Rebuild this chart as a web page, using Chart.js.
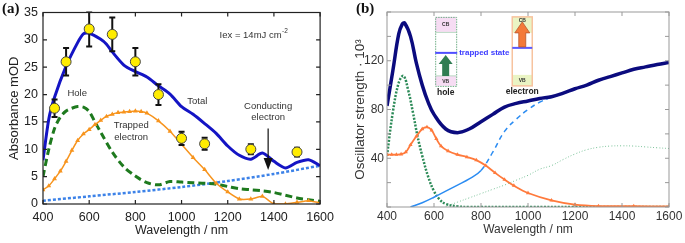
<!DOCTYPE html>
<html>
<head>
<meta charset="utf-8">
<script src="https://cdn.jsdelivr.net/npm/chart.js@4.4.0/dist/chart.umd.min.js"></script>
<style>
  html, body { margin: 0; padding: 0; background: #fff; }
  #wrap { position: relative; width: 685px; height: 243px; overflow: hidden; }
  canvas { position: absolute; top: 0; }
  #ca { left: 0; }
  #cb { left: 340px; }
  .lbl { position: absolute; top: 0; font: bold 15px "Liberation Serif", "DejaVu Serif", serif; color: #111; }
</style>
</head>
<body>
<div id="wrap">
  <canvas id="ca" width="340" height="243"></canvas>
  <canvas id="cb" width="345" height="243"></canvas>
  <div class="lbl" style="left:2px">(a)</div>
  <div class="lbl" style="left:356px">(b)</div>
</div>
<script>
const FONT = '"Liberation Sans", Arial, sans-serif';

// ── Panel (a) data ───────────────────────────────────────────────────────────
const A_TOTAL_NM = [400, 425, 450, 500, 550, 575, 600, 650, 675, 700, 750, 800, 850, 900, 950, 1000, 1050, 1100, 1150, 1200, 1250, 1300, 1350, 1400, 1450, 1500, 1550, 1600];
const A_TOTAL = [8, 15.5, 19.5, 25.2, 29.5, 31.1, 31.2, 30.1, 29.2, 27.8, 25.4, 24.2, 23.2, 21.6, 20.1, 17.8, 16.4, 14.7, 12.9, 10.6, 8.9, 8.2, 9.3, 7.8, 6.6, 7.6, 8.1, 7.0];

const A_HOLE_NM = [400, 425, 450, 475, 500, 525, 550, 575, 600, 625, 650, 700, 750, 800, 850, 900, 950, 1000, 1050, 1100, 1150, 1200, 1250, 1300, 1350, 1400, 1450, 1500, 1550, 1600];
const A_HOLE = [5, 10, 13.8, 15.9, 17, 17.5, 17.8, 17.7, 16.9, 15, 13.1, 9.5, 6.8, 5.1, 3.9, 3.5, 4.1, 4.0, 3.9, 3.8, 3.6, 3.2, 2.8, 2.6, 2.4, 2.1, 1.6, 1.1, 0.8, 0.5];

const A_TRAP_NM = [400, 425, 450, 475, 500, 525, 550, 575, 600, 625, 650, 675, 700, 725, 750, 775, 800, 825, 850, 900, 950, 1000, 1050, 1100, 1150, 1200, 1250, 1300, 1350, 1400, 1450, 1500, 1550, 1600];
const A_TRAP = [2.6, 3.3, 4.6, 6, 7.8, 9.8, 11.6, 12.8, 13.6, 14.5, 15.3, 16, 16.4, 16.7, 16.8, 16.9, 17, 16.9, 16.6, 15.2, 13.3, 10.9, 8.5, 6.3, 3.8, 2.2, 0.9, 0.9, 1.4, 0, 0, 0.3, 0.6, 0.2];

const A_COND_NM = [400, 600, 800, 1000, 1200, 1400, 1600];
const A_COND = [0.6, 1.4, 2.2, 3.1, 4.2, 5.5, 7.0];

const A_PT_NM = [450, 500, 600, 700, 800, 900, 1000, 1100, 1300, 1500];
const A_PT = [17.5, 26, 32, 31, 26, 20, 12, 11, 10, 9.5];
const A_PT_ERR = [1.6, 2.5, 3.2, 3.1, 2.5, 1.9, 1.2, 1.1, 0.9, 0.8];

// ── Panel (b) data ───────────────────────────────────────────────────────────
const B_TOTAL_NM = [400, 425, 450, 465, 475, 500, 525, 550, 575, 600, 650, 700, 750, 800, 850, 900, 950, 1000, 1050, 1100, 1150, 1200, 1250, 1300, 1350, 1400, 1450, 1500, 1550, 1600];
const B_TOTAL = [83, 112, 142, 150, 151, 140, 118, 100, 86, 76, 64, 61, 64, 70, 76, 82, 85, 87, 89, 90.5, 93.5, 97, 100, 104, 107, 110, 113, 115, 117, 118.6];

const B_HOLE_NM = [400, 425, 450, 470, 490, 510, 530, 550, 575, 600, 625, 650, 700, 750, 800, 1000, 1200, 1400, 1600];
const B_HOLE = [42, 78, 102, 107.5, 96, 78, 58, 42, 25, 13, 6, 2.5, 0.5, 0, 0, 0, 0, 0, 0];

const B_TRAP_NM = [400, 420, 440, 460, 480, 500, 525, 550, 570, 590, 610, 630, 660, 700, 740, 780, 820, 860, 900, 940, 1000, 1100, 1200, 1300, 1450, 1600];
const B_TRAP = [43, 43, 43, 43.3, 45, 51, 58, 64, 65.5, 63, 56, 50, 46, 43, 41, 38.5, 34, 28, 22.5, 17.5, 11.5, 5.5, 2, 0.8, 0.6, 0.5];

const B_COND_NM = [500, 550, 600, 650, 700, 750, 800, 850, 900, 950, 1000, 1050, 1100, 1150, 1200, 1250, 1300, 1350, 1400, 1450, 1500, 1550, 1600];
const B_COND = [0, 3.5, 8, 13, 18, 23, 30, 45, 62, 72, 80, 86, 90, 93, 96.5, 100, 103.5, 107, 110, 113, 115, 117, 118.6];

const B_FREE_NM = [650, 700, 750, 800, 850, 900, 950, 1000, 1050, 1100, 1150, 1200, 1250, 1300, 1350, 1400, 1450, 1500, 1550, 1600];
const B_FREE = [0.5, 4, 7.5, 11, 14.5, 18, 22, 26, 31, 34, 39, 43.5, 47, 49, 50, 50.2, 50, 49.3, 48.6, 48];

const xy = (xs, ys) => xs.map((x, i) => ({ x, y: ys[i] }));

// frame box + inward tick marks on all four sides
const frame = {
  id: 'frame',
  afterDatasetsDraw(chart, args, o) {
    const { ctx, chartArea: a, scales: { x, y } } = chart;
    ctx.save();
    ctx.strokeStyle = o.color;
    ctx.lineWidth = o.width;
    ctx.strokeRect(a.left, a.top, a.right - a.left, a.bottom - a.top);
    ctx.beginPath();
    x.ticks.forEach((t) => {
      const p = x.getPixelForValue(t.value);
      ctx.moveTo(p, a.bottom); ctx.lineTo(p, a.bottom - o.len);
      ctx.moveTo(p, a.top); ctx.lineTo(p, a.top + o.len);
    });
    y.ticks.forEach((t) => {
      const p = y.getPixelForValue(t.value);
      ctx.moveTo(a.left, p); ctx.lineTo(a.left + o.len, p);
      ctx.moveTo(a.right, p); ctx.lineTo(a.right - o.len, p);
    });
    ctx.stroke();
    ctx.restore();
  },
};

// error bars under the yellow markers of panel (a)
const errBars = {
  id: 'errBars',
  beforeDatasetDraw(chart, args) {
    if (args.index !== 0) return;
    const { ctx, chartArea: a, scales: { x, y } } = chart;
    ctx.save();
    ctx.beginPath();
    ctx.rect(a.left, a.top - 1, a.right - a.left, a.bottom - a.top + 2);
    ctx.clip();
    ctx.strokeStyle = '#111';
    ctx.lineWidth = 2;
    ctx.beginPath();
    A_PT_NM.forEach((nm, i) => {
      const px = x.getPixelForValue(nm);
      const hi = y.getPixelForValue(A_PT[i] + A_PT_ERR[i]);
      const lo = y.getPixelForValue(A_PT[i] - A_PT_ERR[i]);
      ctx.moveTo(px, hi); ctx.lineTo(px, lo);
      ctx.moveTo(px - 3, hi); ctx.lineTo(px + 3, hi);
      ctx.moveTo(px - 3, lo); ctx.lineTo(px + 3, lo);
    });
    ctx.stroke();
    ctx.restore();
  },
};

// text labels and arrow of panel (a)
const notesA = {
  id: 'notesA',
  afterDatasetsDraw(chart) {
    const { ctx, scales: { x, y } } = chart;
    const X = (v) => x.getPixelForValue(v), Y = (v) => y.getPixelForValue(v);
    ctx.save();
    ctx.fillStyle = '#333';
    ctx.font = `9.5px ${FONT}`;
    ctx.textAlign = 'center';
    ctx.textBaseline = 'middle';
    ctx.fillText('Hole', X(548), Y(20.3));
    ctx.fillText('Total', X(1068), Y(18.8));
    ctx.fillText('Trapped', X(782), Y(14.4));
    ctx.fillText('electron', X(782), Y(12.2));
    ctx.fillText('Conducting', X(1375), Y(17.9));
    ctx.fillText('electron', X(1375), Y(15.9));
    // Iex = 14mJ cm^-2
    ctx.textAlign = 'left';
    const t = 'Iex = 14mJ cm';
    const w = ctx.measureText(t).width;
    const x0 = X(1312) - (w + 6) / 2;
    ctx.fillText(t, x0, Y(30.8));
    ctx.font = `6.5px ${FONT}`;
    ctx.fillText('-2', x0 + w + 0.5, Y(30.8) - 4);
    // arrow
    const ax = X(1375);
    ctx.strokeStyle = '#111';
    ctx.lineWidth = 1.2;
    ctx.beginPath();
    ctx.moveTo(ax, Y(13.8)); ctx.lineTo(ax, Y(8.2));
    ctx.stroke();
    ctx.fillStyle = '#111';
    ctx.beginPath();
    ctx.moveTo(ax - 4.5, Y(8.4)); ctx.lineTo(ax + 4.5, Y(8.4)); ctx.lineTo(ax, Y(6.2));
    ctx.closePath();
    ctx.fill();
    ctx.restore();
  },
};

// band diagram insets of panel (b)
function arrowUp(ctx, cx, tip, base, headLen, headHalf, shaftHalf) {
  ctx.beginPath();
  ctx.moveTo(cx, tip);
  ctx.lineTo(cx + headHalf, tip + headLen);
  ctx.lineTo(cx + shaftHalf, tip + headLen);
  ctx.lineTo(cx + shaftHalf, base);
  ctx.lineTo(cx - shaftHalf, base);
  ctx.lineTo(cx - shaftHalf, tip + headLen);
  ctx.lineTo(cx - headHalf, tip + headLen);
  ctx.closePath();
}

const insetsB = {
  id: 'insetsB',
  afterDatasetsDraw(chart) {
    const { ctx, scales: { x, y } } = chart;
    ctx.save();
    ctx.textAlign = 'center';
    ctx.textBaseline = 'middle';

    // hole box
    let l = x.getPixelForValue(605), t = y.getPixelForValue(156), w = 21, h = 69;
    ctx.fillStyle = '#fff'; ctx.fillRect(l, t, w, h);
    ctx.fillStyle = '#f6dcf3';
    ctx.fillRect(l, t, w, 15);
    ctx.fillRect(l, t + h - 10, w, 10);
    ctx.strokeStyle = '#6fae86'; ctx.lineWidth = 1; ctx.setLineDash([1.5, 1]);
    ctx.strokeRect(l + 0.5, t + 0.5, w, h);
    ctx.setLineDash([]);
    ctx.strokeStyle = '#b9d9c3';
    ctx.beginPath(); ctx.moveTo(l, t + 15.5); ctx.lineTo(l + w, t + 15.5); ctx.moveTo(l, t + h - 10); ctx.lineTo(l + w, t + h - 10); ctx.stroke();
    ctx.fillStyle = '#2f7d52';
    arrowUp(ctx, l + w / 2, t + 38, t + h - 10, 9, 7, 3.5);
    ctx.fill();
    ctx.strokeStyle = '#4f4fff'; ctx.lineWidth = 2;
    ctx.beginPath(); ctx.moveTo(l, t + 36); ctx.lineTo(l + w + 1, t + 36); ctx.stroke();
    ctx.fillStyle = '#333'; ctx.font = `bold 5px ${FONT}`;
    ctx.fillText('CB', l + w / 2, t + 8);
    ctx.fillText('VB', l + w / 2, t + h - 4.5);
    ctx.fillStyle = '#3c3cff'; ctx.font = `bold 8px ${FONT}`;
    ctx.textAlign = 'left';
    ctx.fillText('trapped state', l + w + 3, t + 35.5);
    ctx.textAlign = 'center';
    ctx.fillStyle = '#222'; ctx.font = `bold 8.5px ${FONT}`;
    ctx.fillText('hole', l + w / 2, t + h + 7);

    // electron box
    l = x.getPixelForValue(933); w = 20;
    ctx.fillStyle = '#fff'; ctx.fillRect(l, t, w, h);
    ctx.fillStyle = '#eaf4c4';
    ctx.fillRect(l, t, w, 16);
    ctx.fillRect(l, t + h - 11, w, 11);
    ctx.strokeStyle = '#f7c39f'; ctx.lineWidth = 1.5;
    ctx.strokeRect(l, t, w, h);
    ctx.strokeStyle = '#5a5aff'; ctx.lineWidth = 2;
    ctx.beginPath(); ctx.moveTo(l, t + 31); ctx.lineTo(l + w, t + 31); ctx.stroke();
    ctx.fillStyle = '#f47a3a'; ctx.strokeStyle = '#b8552c'; ctx.lineWidth = 0.8;
    arrowUp(ctx, l + w / 2, t + 5, t + 30, 11, 7.5, 3.5);
    ctx.fill(); ctx.stroke();
    ctx.fillStyle = '#333'; ctx.font = `bold 5px ${FONT}`;
    ctx.fillText('CB', l + w / 2, t + 3.5);
    ctx.fillText('VB', l + w / 2, t + h - 5);
    ctx.fillStyle = '#222'; ctx.font = `bold 8.5px ${FONT}`;
    ctx.fillText('electron', l + w / 2, t + h + 6);
    ctx.restore();
  },
};

function axis(min, max, step, o) {
  return {
    type: 'linear', min, max,
    grid: { display: false, drawTicks: false },
    border: { display: false },
    ticks: { stepSize: step, padding: o.pad, color: o.color, font: { family: FONT, size: o.size }, callback: o.cb },
    title: { display: true, text: o.title, color: o.color, font: { family: FONT, size: o.titleSize }, padding: o.titlePad },
    afterFit: o.fit,
  };
}

const common = {
  responsive: false,
  animation: false,
  events: [],
  plugins: { legend: { display: false }, tooltip: { enabled: false } },
};

// ── Panel (a) ────────────────────────────────────────────────────────────────
new Chart(document.getElementById('ca'), {
  type: 'line',
  data: {
    datasets: [
      { data: xy(A_PT_NM, A_PT), showLine: false, pointRadius: 5, pointBackgroundColor: '#ffec00', pointBorderColor: '#444', pointBorderWidth: 1, order: 0 },
      { data: xy(A_TOTAL_NM, A_TOTAL), borderColor: '#1414c4', borderWidth: 3, pointRadius: 0, tension: 0.25, order: 1 },
      { data: xy(A_TRAP_NM, A_TRAP), borderColor: '#f7941d', borderWidth: 1.5, pointStyle: 'triangle', pointRadius: 2.8, pointBackgroundColor: '#f7941d', pointBorderWidth: 0, tension: 0.2, order: 2 },
      { data: xy(A_HOLE_NM, A_HOLE), borderColor: '#1e7a1e', borderWidth: 3, borderDash: [7, 4], pointRadius: 0, tension: 0.3, order: 3 },
      { data: xy(A_COND_NM, A_COND), borderColor: '#3c82e8', borderWidth: 2.5, borderDash: [3, 2], pointRadius: 0, tension: 0.3, order: 4 },
    ],
  },
  options: {
    ...common,
    layout: { padding: { top: 10, right: 18, left: 0, bottom: 0 } },
    scales: {
      x: axis(400, 1600, 200, { pad: 6, color: '#222', size: 12.5, title: 'Wavelength / nm', titleSize: 12.5, titlePad: { bottom: 5 }, fit: (s) => { s.height = 39; } }),
      y: axis(0, 35, 5, { pad: 5, color: '#222', size: 12.5, title: 'Absorbance mOD', titleSize: 13, titlePad: { top: 7 }, fit: (s) => { s.width = 43; } }),
    },
    plugins: { ...common.plugins, frame: { color: '#222', width: 1.2, len: 4 } },
  },
  plugins: [errBars, notesA, frame],
});

// ── Panel (b) ────────────────────────────────────────────────────────────────
new Chart(document.getElementById('cb'), {
  type: 'line',
  data: {
    datasets: [
      { data: xy(B_TOTAL_NM, B_TOTAL), borderColor: '#0b0b7e', borderWidth: 3.5, pointRadius: 0, tension: 0.4, order: 0 },
      { data: xy(B_TRAP_NM, B_TRAP), borderColor: '#ff7a3c', borderWidth: 1.8, pointStyle: 'triangle', pointRadius: 2.4, pointBackgroundColor: '#ff7a3c', pointBorderWidth: 0, tension: 0.35, order: 1 },
      { data: xy(B_COND_NM, B_COND), borderColor: '#2b8cf2', borderWidth: 1.5, pointRadius: 0, tension: 0.4, order: 2,
        segment: { borderDash: (c) => (c.p0.parsed.x >= 800 ? [5, 4] : undefined) } },
      { data: xy(B_HOLE_NM, B_HOLE), borderColor: '#2b8a57', borderWidth: 2.5, borderDash: [2, 1.5], pointRadius: 0, tension: 0.4, order: 3 },
      { data: xy(B_FREE_NM, B_FREE), borderColor: '#7cc39a', borderWidth: 1, borderDash: [1, 2], pointRadius: 0, tension: 0.4, order: 4 },
    ],
  },
  options: {
    ...common,
    layout: { padding: { top: 12, right: 16, left: 0, bottom: 0 } },
    scales: {
      x: axis(400, 1600, 200, { pad: 2, color: '#333', size: 12, title: 'Wavelength / nm', titleSize: 12, titlePad: { bottom: 6 }, fit: (s) => { s.height = 36; } }),
      y: axis(0, 160, 20, { pad: 3, color: '#333', size: 12, title: 'Oscillator strength · 10³', titleSize: 13.5, titlePad: { top: 12 },
        cb: (v) => ([40, 80, 120].includes(v) ? v : ''), fit: (s) => { s.width = 47; } }),
    },
    plugins: { ...common.plugins, frame: { color: '#999', width: 1, len: 4 } },
  },
  plugins: [insetsB, frame],
});
</script>
</body>
</html>
